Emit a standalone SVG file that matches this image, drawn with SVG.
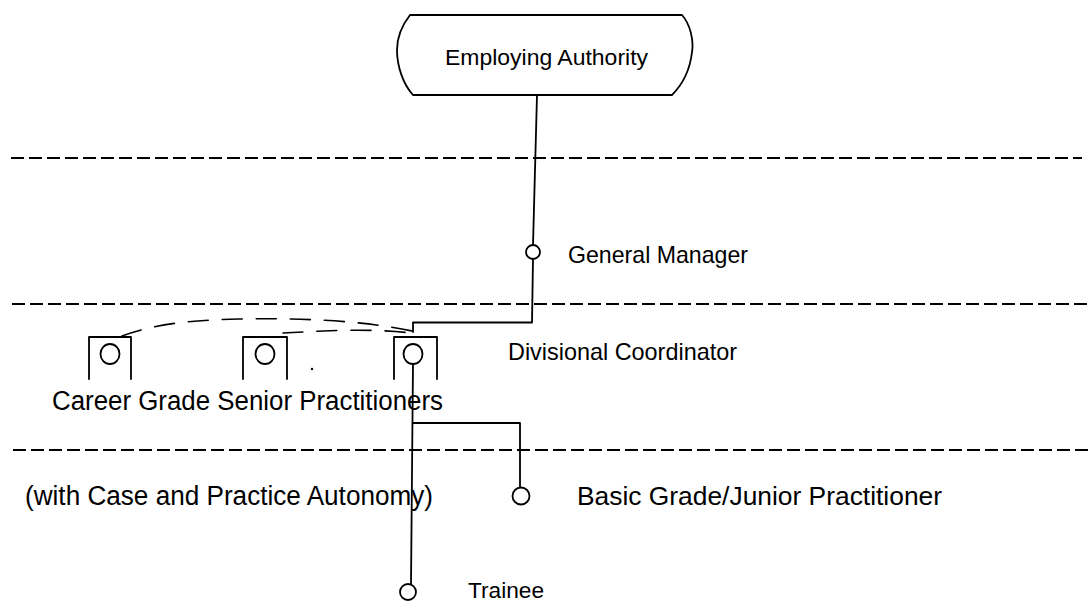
<svg xmlns="http://www.w3.org/2000/svg" width="1092" height="604" viewBox="0 0 1092 604">
<style>
.bg{fill:#ffffff}
.ln{fill:none;stroke:#000;stroke-width:1.8;stroke-linecap:round;stroke-linejoin:round}
.sep{fill:none;stroke:#000;stroke-width:2;stroke-dasharray:13 5}
.dsh{fill:none;stroke:#000;stroke-width:1.6;stroke-dasharray:20 14;stroke-linecap:round}
.nd{fill:#fff;stroke:#000;stroke-width:1.8}
.t{font-family:"Liberation Sans",Arial,Helvetica,sans-serif;fill:#000}
</style>
<rect class="bg" x="0" y="0" width="1092" height="604"/>
<g id="separators">
<line class="sep" x1="11" y1="158" x2="1082" y2="158"/>
<line class="sep" x1="12" y1="304" x2="1092" y2="304"/>
<line class="sep" x1="13" y1="450" x2="1092" y2="450"/>
</g>
<g id="connectors">
<path class="ln" d="M537,95 L533,245"/>
<path class="ln" d="M533,259 L532,322.5 L413,322.5 L413,332"/>
<path class="dsh" d="M122,336 C160,322 200,320 240,319 C300,318 360,320 412,331"/>
<path class="dsh" stroke-dasharray="14 12" d="M283,333 C320,331 370,328 411,333"/>
<path class="ln" d="M413,363 L411,584"/>
<path class="ln" d="M413,423 L520,423 L520,487"/>
</g>
<g id="employing-authority">
<path class="ln" d="M410,15 L682,15 C690,24 694,40 692,52 C690,70 683,84 672,95 L413,95 C403,84 397,66 397,50 C397,36 403,24 410,15 Z"/>
<text class="t" x="445" y="65" font-size="22" textLength="203" lengthAdjust="spacingAndGlyphs">Employing Authority</text>
</g>
<g id="general-manager">
<circle class="nd" cx="533" cy="252" r="7"/>
<text class="t" x="568" y="263" font-size="24" textLength="180" lengthAdjust="spacingAndGlyphs">General Manager</text>
</g>
<g id="senior-1">
<path class="ln" d="M89,379 L89,337 L131,337 L131,379"/>
<ellipse class="nd" cx="110" cy="354" rx="9.5" ry="10"/>
</g>
<g id="senior-2">
<path class="ln" d="M243,379 L243,337 L287,337 L287,379"/>
<ellipse class="nd" cx="265" cy="354" rx="9.5" ry="10"/>
</g>
<g id="divisional-coordinator">
<path class="ln" d="M394,379 L394,337 L437,337 L437,379"/>
<ellipse class="nd" cx="413" cy="354" rx="9.5" ry="10"/>
<text class="t" x="508" y="360" font-size="24" textLength="229" lengthAdjust="spacingAndGlyphs">Divisional Coordinator</text>
</g>
<circle cx="312" cy="369" r="1.2" fill="#000"/>
<g id="career-grade-label">
<text class="t" x="52" y="410" font-size="27" textLength="391" lengthAdjust="spacingAndGlyphs">Career Grade Senior Practitioners</text>
<text class="t" x="25" y="505" font-size="27" textLength="408" lengthAdjust="spacingAndGlyphs">(with Case and Practice Autonomy)</text>
</g>
<g id="basic-grade">
<circle class="nd" cx="521" cy="496" r="8.5"/>
<text class="t" x="577" y="505" font-size="25" textLength="365" lengthAdjust="spacingAndGlyphs">Basic Grade/Junior Practitioner</text>
</g>
<g id="trainee">
<circle class="nd" cx="408" cy="592" r="8"/>
<text class="t" x="468" y="598" font-size="22" textLength="76" lengthAdjust="spacingAndGlyphs">Trainee</text>
</g>
</svg>
